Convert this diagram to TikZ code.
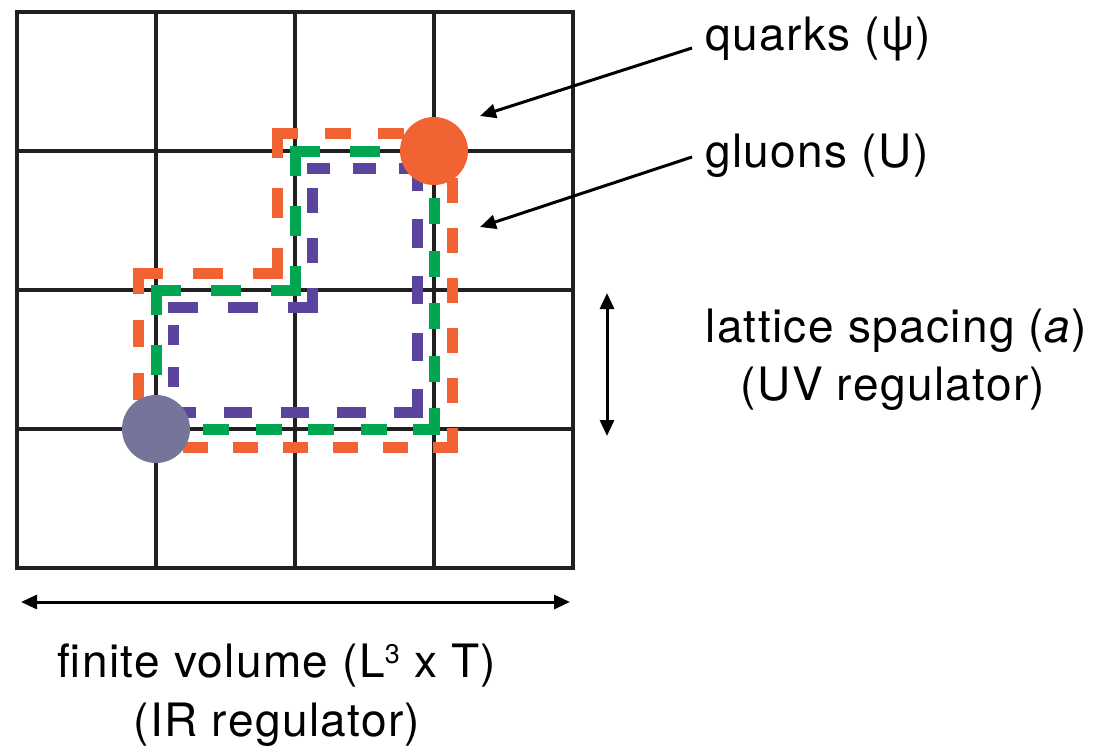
\documentclass[tikz,border=0pt]{standalone}
\usepackage{fontspec}
\setmainfont[LetterSpace=3]{TeX Gyre Heros}
\usetikzlibrary{arrows.meta}
\definecolor{qorange}{RGB}{242,99,52}
\definecolor{ggreen}{RGB}{0,166,80}
\definecolor{lpurple}{RGB}{90,68,158}
\definecolor{qgray}{RGB}{117,117,155}
\definecolor{gridcol}{RGB}{35,31,32}
\begin{document}
\begin{tikzpicture}[x=1pt,y=-1pt,
  gridline/.style={draw=gridcol, line width=3.2pt},
  seg/.style={line width=11pt, shorten <=-5.5pt, shorten >=-5.5pt, dash pattern=on #1pt off #1pt},
  lab/.style={font=\fontsize{46}{55}\selectfont, inner sep=0pt, text=black},
  arr/.style={line width=3pt, -{Triangle[length=16pt,width=14pt]}},
  darr/.style={line width=3pt, {Triangle[length=16pt,width=14pt]}-{Triangle[length=16pt,width=14pt]}},
  site/.style={circle, minimum size=68pt, inner sep=0pt}]
\useasboundingbox (0,0) rectangle (1093,747);
% lattice grid
\draw[gridline, line join=miter] (17,12) rectangle (573,568);
\foreach \g in {156,295,434} {
  \draw[gridline] (\g,12) -- (\g,568);
  \draw[gridline] (17,\g-5) -- (573,\g-5);
}
% orange loop (outer)
\coordinate (o1) at (138,447); \coordinate (o2) at (452,447);
\coordinate (o3) at (452,133); \coordinate (o4) at (277,133);
\coordinate (o5) at (277,273); \coordinate (o6) at (138,273);
\draw[qorange, seg=25.0] (o1) -- (o2);
\draw[qorange, seg=25.0] (o2) -- (o3);
\draw[qorange, seg=26.57] (o3) -- (o4);
\draw[qorange, seg=30.2] (o4) -- (o5);
\draw[qorange, seg=30.0] (o5) -- (o6);
\draw[qorange, seg=26.43] (o6) -- (o1);
% green loop (on the links)
\coordinate (g1) at (156,429); \coordinate (g2) at (434,429);
\coordinate (g3) at (434,151); \coordinate (g4) at (295,151);
\coordinate (g5) at (295,290); \coordinate (g6) at (156,290);
\draw[ggreen, seg=26.27] (g1) -- (g2);
\draw[ggreen, seg=26.27] (g2) -- (g3);
\draw[ggreen, seg=30.0] (g3) -- (g4);
\draw[ggreen, seg=30.0] (g4) -- (g5);
\draw[ggreen, seg=30.0] (g5) -- (g6);
\draw[ggreen, seg=30.0] (g6) -- (g1);
% purple loop (inner)
\coordinate (p1) at (173,412); \coordinate (p2) at (417,412);
\coordinate (p3) at (417,168); \coordinate (p4) at (312,168);
\coordinate (p5) at (312,307); \coordinate (p6) at (173,307);
\draw[lpurple, seg=28.33] (p1) -- (p2);
\draw[lpurple, seg=28.33] (p2) -- (p3);
\draw[lpurple, seg=23.2] (p3) -- (p4);
\draw[lpurple, line width=11pt, shorten >=-5.5pt, dash pattern=on 25pt off 25pt, dash phase=30.5pt] (p4) -- (p5);
\draw[lpurple, seg=30.0] (p5) -- (p6);
\draw[lpurple, line width=11pt, dash pattern=on 20pt off 22pt, dash phase=24pt] (p6) -- (p1);
% quark sites
\node[site, fill=qorange] (qa) at (434,151) {};
\node[site, fill=qgray] (qb) at (156,429) {};
% labels
\node[lab, anchor=base west] (quarks) at (705,50) {quarks (ψ)};
\node[lab, anchor=base west] (gluons) at (705,167) {gluons (U)};
\node[lab, anchor=base] (lattice) at (896,342) {lattice spacing (\textit{a})};
\node[lab, anchor=base] (uvreg) at (893,400) {(UV regulator)};
\node[lab, anchor=base] (finite) at (277,677) {finite volume (L\raisebox{14pt}{\fontsize{27}{27}\selectfont 3} x T)};
\node[lab, anchor=base] (irreg) at (277,736) {(IR regulator)};
% pointer arrows
\coordinate (qs) at (692,48); \coordinate (qt) at (480,116);
\coordinate (gs) at (692,157); \coordinate (gt) at (480,227);
\draw[arr] (qs) -- (qt);
\draw[arr] (gs) -- (gt);
% scale arrows
\coordinate (al) at (607,293); \coordinate (ar) at (607,436);
\coordinate (ll) at (21,602); \coordinate (lr) at (570,602);
\draw[darr] (al) -- (ar);
\draw[darr] (ll) -- (lr);
\end{tikzpicture}
\end{document}
